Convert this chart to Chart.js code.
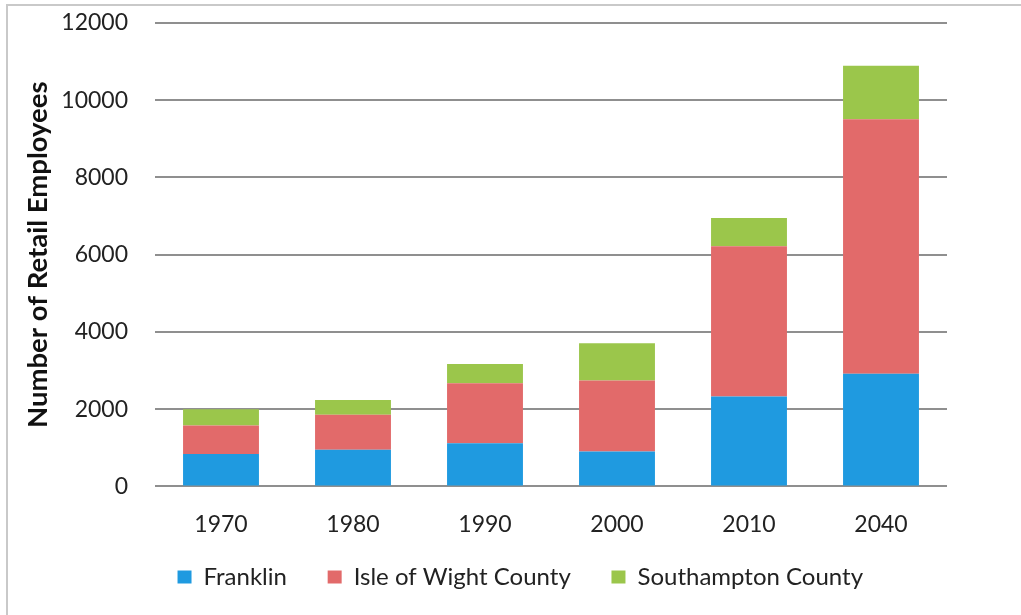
<!DOCTYPE html>
<html lang="en">
  <head>
    <meta charset="UTF-8" />
    <title>Retail Employees</title>
    <script src="https://cdn.jsdelivr.net/npm/chart.js"></script>
    <style>
      html, body { margin: 0; padding: 0; background: #fff; }
      #wrap { width: 1021px; height: 615px; }
    </style>
  </head>
  <body>
    <div id="wrap"><canvas id="myChart" width="1021" height="615"></canvas></div>

    <script>
      const years = ["1970", "1980", "1990", "2000", "2010", "2040"];
      const franklin = [840, 950, 1120, 905, 2330, 2920];
      const isleOfWight = [740, 905, 1550, 1835, 3890, 6590];
      const southampton = [420, 380, 500, 965, 730, 1380];

      const fontFamily = "Lato, 'Open Sans', sans-serif";

      // light frame around the chart like the scanned original
      const framePlugin = {
        id: "frame",
        beforeDraw(chart) {
          const ctx = chart.ctx;
          ctx.save();
          ctx.fillStyle = "#fff";
          ctx.fillRect(0, 0, chart.width, chart.height);
          ctx.strokeStyle = "#c9c9c9";
          ctx.lineWidth = 2;
          ctx.beginPath();
          ctx.moveTo(7, chart.height);
          ctx.lineTo(7, 5);
          ctx.lineTo(chart.width, 5);
          ctx.stroke();
          ctx.restore();
        },
      };

      // trailing blanks widen the gaps between legend entries
      const gap = " ".repeat(5);
      const lastGap = " ".repeat(10);

      const config = {
        type: "bar",
        data: {
          labels: years,
          datasets: [
            { label: "Franklin", data: franklin, backgroundColor: "#1f9ae0" },
            { label: "Isle of Wight County", data: isleOfWight, backgroundColor: "#e26a6a" },
            { label: "Southampton County", data: southampton, backgroundColor: "#9bc64b" },
          ],
        },
        options: {
          responsive: false,
          animation: false,
          layout: { padding: { top: 23, right: 74, bottom: 16, left: 0 } },
          datasets: {
            bar: { barPercentage: 0.575, categoryPercentage: 1 },
          },
          plugins: {
            tooltip: { enabled: false },
            legend: {
              position: "bottom",
              fullSize: false,
              labels: {
                boxWidth: 14,
                boxHeight: 13,
                padding: 10,
                color: "#222",
                font: { family: fontFamily, size: 24 },
                generateLabels: (chart) => {
                  const items = Chart.defaults.plugins.legend.labels.generateLabels(chart);
                  items.forEach((item, i) => {
                    item.text += i === items.length - 1 ? lastGap : gap;
                  });
                  return items;
                },
              },
            },
          },
          scales: {
            x: {
              stacked: true,
              grid: { display: false },
              border: { display: false },
              ticks: {
                color: "#222",
                padding: 16.5,
                font: { family: fontFamily, size: 23 },
              },
            },
            y: {
              stacked: true,
              min: 0,
              max: 12000,
              afterFit: (scale) => {
                scale.width = 155;
                scale.paddingTop = 0;
                scale.paddingBottom = 0;
              },
              grid: { color: "#8f8f8f", lineWidth: 2, drawTicks: false },
              border: { display: false },
              ticks: {
                stepSize: 2000,
                color: "#222",
                padding: 27,
                font: { family: fontFamily, size: 23 },
                callback: (value) => String(value),
              },
              title: {
                display: true,
                text: "Number of Retail Employees",
                color: "#111",
                padding: { top: 22, bottom: 0 },
                font: { family: fontFamily, size: 27.5, weight: "bold" },
              },
            },
          },
        },
        plugins: [framePlugin],
      };

      new Chart(document.getElementById("myChart"), config);
    </script>
  </body>
</html>
